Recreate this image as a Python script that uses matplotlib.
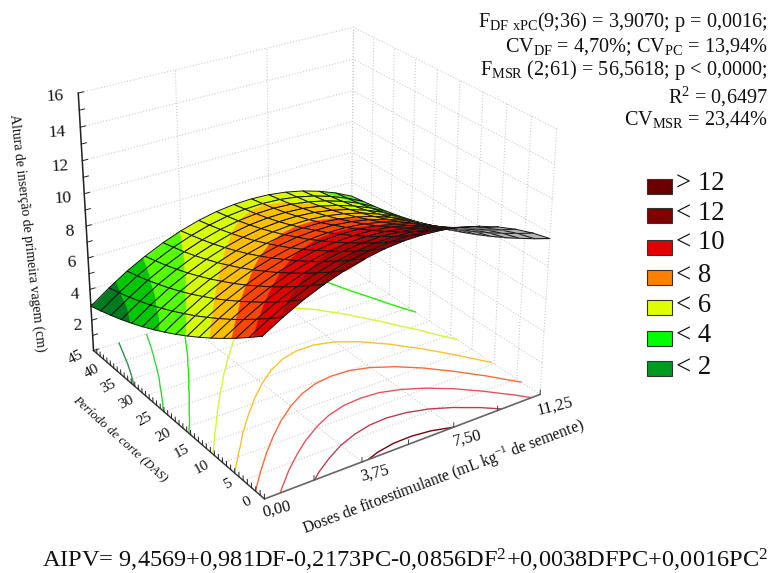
import numpy as np
import matplotlib
matplotlib.use('Agg')
import matplotlib.pyplot as plt
from matplotlib.patches import Rectangle
from mpl_toolkits.mplot3d import proj3d
from mpl_toolkits.mplot3d.art3d import Poly3DCollection

W, H = 771, 573
plt.rcParams['font.family'] = ['Liberation Serif', 'DejaVu Serif']
plt.rcParams['mathtext.default'] = 'regular'

doses = [0.00, 0.75, 1.50, 2.25, 3.00, 3.75, 4.50, 5.25, 6.00, 6.75, 7.50, 8.25, 9.00, 9.75, 10.50, 11.25]
periodo = [0, 3, 6, 9, 12, 15, 18, 21, 24, 27, 30, 33, 36, 39, 42, 45]
# altura, one row per periodo, one column per dose
altura = np.array([
    [9.46, 10.14, 10.74, 11.23, 11.63, 11.93, 12.14, 12.25, 12.26, 12.18, 12.00, 11.72, 11.35, 10.88, 10.32, 9.66],
    [8.82, 9.51, 10.12, 10.62, 11.02, 11.33, 11.55, 11.67, 11.69, 11.62, 11.45, 11.17, 10.81, 10.35, 9.80, 9.15],
    [8.21, 8.91, 9.52, 10.03, 10.45, 10.77, 10.99, 11.12, 11.15, 11.08, 10.92, 10.66, 10.31, 9.85, 9.31, 8.67],
    [7.63, 8.34, 8.96, 9.48, 9.90, 10.23, 10.46, 10.60, 10.64, 10.58, 10.43, 10.17, 9.83, 9.38, 8.85, 8.21],
    [7.08, 7.79, 8.43, 8.95, 9.39, 9.72, 9.97, 10.11, 10.15, 10.11, 9.96, 9.72, 9.38, 8.94, 8.42, 7.79],
    [6.56, 7.28, 7.93, 8.46, 8.90, 9.24, 9.50, 9.65, 9.70, 9.67, 9.53, 9.29, 8.96, 8.54, 8.02, 7.40],
    [6.07, 6.80, 7.45, 7.99, 8.45, 8.80, 9.06, 9.22, 9.28, 9.25, 9.12, 8.89, 8.58, 8.16, 7.65, 7.04],
    [5.60, 6.34, 7.00, 7.55, 8.01, 8.37, 8.64, 8.81, 8.88, 8.86, 8.74, 8.52, 8.21, 7.80, 7.30, 6.70],
    [5.17, 5.92, 6.59, 7.15, 7.61, 7.98, 8.26, 8.44, 8.52, 8.51, 8.39, 8.18, 7.88, 7.48, 6.99, 6.40],
    [4.76, 5.52, 6.19, 6.76, 7.24, 7.61, 7.90, 8.09, 8.18, 8.17, 8.07, 7.87, 7.57, 7.18, 6.70, 6.11],
    [4.38, 5.15, 5.83, 6.41, 6.89, 7.28, 7.57, 7.77, 7.86, 7.87, 7.78, 7.58, 7.30, 6.91, 6.44, 5.86],
    [4.03, 4.80, 5.50, 6.08, 6.58, 6.97, 7.27, 7.48, 7.58, 7.60, 7.51, 7.32, 7.05, 6.67, 6.21, 5.64],
    [3.71, 4.49, 5.20, 5.79, 6.29, 6.69, 7.01, 7.22, 7.33, 7.35, 7.28, 7.10, 6.83, 6.46, 6.01, 5.45],
    [3.42, 4.21, 4.92, 5.52, 6.03, 6.45, 6.77, 6.99, 7.11, 7.14, 7.07, 6.90, 6.64, 6.29, 5.84, 5.29],
    [3.16, 3.96, 4.68, 5.29, 5.81, 6.23, 6.56, 6.79, 6.92, 6.96, 6.90, 6.74, 6.49, 6.14, 5.70, 5.16],
    [2.92, 3.73, 4.46, 5.07, 5.60, 6.03, 6.37, 6.61, 6.75, 6.79, 6.74, 6.59, 6.35, 6.01, 5.58, 5.04],
])

band_edges = [-99, 4, 5, 6, 7, 8, 9, 10, 11, 12, 99]
band_colors = ['#007a1f', '#00c800', '#55ff00', '#d8ff00', '#ffbf00',
               '#ff4500', '#e00000', '#b00000', '#8c0000', '#6e0000']
contour_levels = [4, 5, 6, 7, 8, 9, 10, 11, 12]
contour_colors = ['#2f8f4f', '#3fd03f', '#22ee00', '#d9f23a', '#ffc030',
                  '#ff6a3c', '#e8525a', '#b84050', '#7a0010']

dose_ticks = [0.00, 3.75, 7.50, 11.25]
dose_labels = ['0,00', '3,75', '7,50', '11,25']
dose_minor = [0.00, 1.875, 3.75, 5.625, 7.50, 9.375, 11.25]
periodo_ticks = [0, 5, 10, 15, 20, 25, 30, 35, 40, 45]
altura_ticks = [2, 4, 6, 8, 10, 12, 14, 16]

legend_labels = ['> 12', '< 12', '< 10', '< 8', '< 6', '< 4', '< 2']
legend_colors = ['#6a0000', '#800000', '#e00000', '#ff8000', '#dfff00', '#00ff00', '#009a1e']

stats_lines = ['F$_{DF\\ xPC}$(9;36) = 3,9070; p = 0,0016;',
               'CV$_{DF}$ = 4,70%; CV$_{PC}$ = 13,94%',
               'F$_{MSR}$ (2;61) = 56,5618; p < 0,0000;',
               'R$^{2}$ = 0,6497',
               'CV$_{MSR}$ = 23,44%']
equation = 'AIPV= 9,4569+0,981DF-0,2173PC-0,0856DF$^{2}$+0,0038DFPC+0,0016PC$^{2}$'


def px_text(x, y, s, **kw):
    # place a text by its pixel centre in the picture
    kw.setdefault('ha', 'center')
    kw.setdefault('va', 'center')
    kw.setdefault('rotation_mode', 'anchor')
    return fig.text(x / W, 1 - y / H, s, **kw)


def clip_band(poly, lo, hi):
    # cut a cell polygon to the part between two heights
    for limit, sign in ((lo, 1), (hi, -1)):
        out = []
        for a, b in zip(poly, poly[1:] + poly[:1]):
            da, db = sign * (a[2] - limit), sign * (b[2] - limit)
            if da >= 0:
                out.append(a)
            if da * db < 0:
                t = da / (da - db)
                out.append(tuple(a[k] + t * (b[k] - a[k]) for k in range(3)))
        poly = out
        if not poly:
            break
    return poly


fig = plt.figure(figsize=(W / 100, H / 100), dpi=100)
ax = fig.add_axes([-98.5 / W, -83.6 / H, 800 / W, 800 / H], projection='3d')
ax.computed_zorder = False
ax.set_axis_off()
ax.view_init(elev=26.743, azim=-124.11)
ax.set_proj_type('persp', focal_length=0.441)
ax.set_box_aspect((1, 1.001, 0.88), zoom=0.672)
ax.set_xlim(0, 11.25, view_margin=0)
ax.set_ylim(0, 45, view_margin=0)
ax.set_zlim(0, 16, view_margin=0)
ax.autoscale(False)

xmax, ymax, zmax = dose_ticks[-1], periodo_ticks[-1], altura_ticks[-1]
grid = dict(color='#cccccc', lw=0.8, ls=':', zorder=0)
for d in dose_ticks:
    ax.plot([d, d], [0, ymax], [0, 0], **grid)
    ax.plot([d, d], [ymax, ymax], [0, zmax], **grid)
for p in periodo_ticks:
    ax.plot([0, xmax], [p, p], [0, 0], **grid)
    ax.plot([xmax, xmax], [p, p], [0, zmax], **grid)
for z in altura_ticks:
    ax.plot([0, xmax], [ymax, ymax], [z, z], **grid)
    ax.plot([xmax, xmax], [0, ymax], [z, z], **grid)

ax.plot([0, 0], [ymax, ymax], [0, zmax], color='#222222', lw=1.1, zorder=2)
ax.plot([0, 0], [0, ymax], [0, 0], color='#333333', lw=1.0, zorder=2)
ax.plot([0, xmax], [0, 0], [0, 0], color='#666666', lw=1.2, zorder=2)
for p in range(0, ymax + 1):
    ax.plot([0, 0], [p, p], [0, 0.28], color='#222222', lw=0.7, zorder=2)
for d in dose_minor:
    ax.plot([d, d], [0, 0], [0, 0.28], color='#444444', lw=0.7, zorder=2)
for z in range(0, zmax + 1):
    ax.plot([0, 0.2], [ymax, ymax], [z, z], color='#222222', lw=0.7, zorder=2)

X, Y = np.meshgrid(doses, periodo)
ax.contour(X, Y, altura, levels=contour_levels, colors=contour_colors,
           zdir='z', offset=0, linewidths=1.0, zorder=1)

M = ax.get_proj()
order = 10
# height field seen from the low dose, low period corner: paint far cells first
for i in range(len(doses) - 2, -1, -1):
    for j in range(len(periodo) - 2, -1, -1):
        cell = [(doses[i], periodo[j], altura[j, i]),
                (doses[i + 1], periodo[j], altura[j, i + 1]),
                (doses[i + 1], periodo[j + 1], altura[j + 1, i + 1]),
                (doses[i], periodo[j + 1], altura[j + 1, i])]
        cx, cy, cz = zip(*cell)
        sx, sy, _ = proj3d.proj_transform(np.array(cx), np.array(cy), np.array(cz), M)
        area = np.sum(sx * np.roll(sy, -1) - np.roll(sx, -1) * sy)
        pieces, colors = [], []
        if area < 0:
            # underside of the sheet shows grey
            pieces, colors = [cell], ['#b4b4b4']
        else:
            for b, c in enumerate(band_colors):
                part = clip_band(cell, band_edges[b], band_edges[b + 1])
                if len(part) >= 3:
                    pieces.append(part)
                    colors.append(c)
        coll = Poly3DCollection(pieces, facecolors=colors, edgecolors=colors,
                                linewidths=0.3, zorder=order)
        ax.add_collection3d(coll, autolim=False)
        ax.plot(list(cx) + [cx[0]], list(cy) + [cy[0]], list(cz) + [cz[0]],
                color='#161616', lw=0.7, zorder=order + 0.5)
        order += 1

# axis text
z_label_pos = [(77, 326), (75, 295), (71, 263), (69, 232), (63, 199), (60, 167), (57, 133), (55, 97)]
for z, (x, y) in zip(altura_ticks, z_label_pos):
    px_text(x, y, str(z), fontsize=12.5, rotation=3, color='#111111')
pc_label_pos = [(247, 502), (228, 484), (202, 467), (182, 451), (163, 435),
                (144, 419), (126, 402), (108, 386), (92, 371), (76, 357)]
for p, (x, y) in zip(periodo_ticks, pc_label_pos):
    px_text(x, y, str(p), fontsize=11, rotation=28, color='#111111')
df_label_pos = [(277, 509), (375, 473), (467, 438), (555, 406)]
for s, (x, y) in zip(dose_labels, df_label_pos):
    px_text(x, y, s, fontsize=12, rotation=14, color='#111111')

px_text(27, 233, 'Altura de inserção de primeira vagem (cm)', fontsize=10, rotation=-83.5, color='#111111')
px_text(120, 439, 'Período de corte (DAS)', fontsize=9.3, style='italic', rotation=-42, color='#111111')
px_text(444, 478, 'Doses de fitoestimulante (mL kg$^{-1}$ de semente)', fontsize=11.3, rotation=20.5, color='#111111')

for s, y in zip(stats_lines, [22, 47, 70, 97, 120]):
    px_text(768, y, s, ha='right', fontsize=14.6, color='#111111')

legend_y = [186, 216, 247, 277, 307, 338, 368]
text_y = [183, 213, 243, 275, 305, 335, 367]
for s, c, y, ty in zip(legend_labels, legend_colors, legend_y, text_y):
    fig.add_artist(Rectangle((647 / W, 1 - (y + 7.5) / H), 25 / W, 15 / H, transform=fig.transFigure,
                             facecolor=c, edgecolor='#333333', lw=0.8))
    px_text(676, ty, s, ha='left', fontsize=19.3, color='#111111')

px_text(42, 560, equation, ha='left', fontsize=17.6, color='#111111')

fig.savefig('out.png', dpi=100)
